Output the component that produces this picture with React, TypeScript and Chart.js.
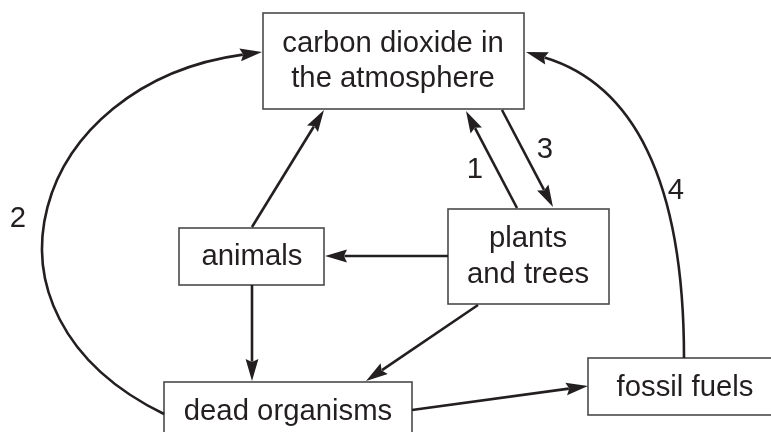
import React, { useEffect, useRef } from "react";
import { Chart, registerables } from "chart.js";
Chart.register(...registerables);

const W = 771;
const H = 432;

// Boxes (diagram units = pixels of the reference)
const nodeLabels: string[][] = [
  ["carbon dioxide in", "the atmosphere"],
  ["plants", "and trees"],
  ["animals"],
  ["dead organisms"],
  ["fossil fuels"],
];
const nodeLeft = [263, 448, 179, 164, 588];
const nodeTop = [13, 209, 228, 382, 358];
const nodeRight = [524, 609, 324, 412, 800];
const nodeBottom = [109, 304, 285, 450, 415];
const textX = [393, 528, 252, 288, 685];
const textBaselines: number[][] = [[52, 87], [247, 283], [265], [420], [396]];

// Straight arrows: from -> tip
const arrowFromX = [517, 502, 252, 448, 252, 478, 412];
const arrowFromY = [208, 110, 227, 256, 285, 305, 410];
const arrowToX = [466, 553, 324, 325, 252, 366, 588];
const arrowToY = [111, 207, 110, 256, 381, 381, 386];

// Curved arrows (cubic Bezier: start, control 1, control 2, tip)
const curveX: number[][] = [
  [164, -43, 34, 262],
  [684, 684, 632, 526],
];
const curveY: number[][] = [
  [414, 313, 83, 52],
  [358, 178, 84, 52],
];

// Step numbers
const stepLabels = ["1", "2", "3", "4"];
const stepX = [475, 18, 545, 676];
const stepY = [178, 227, 158, 199];

const INK = "#231f20";
const BOX = "#4a4a4a";
const FONT = "29.3px 'Liberation Sans', Arial, sans-serif";

const diagramPlugin = {
  id: "diagram",
  afterDraw(chart: any) {
    const ctx: CanvasRenderingContext2D = chart.ctx;
    const xs = chart.scales.x;
    const ys = chart.scales.y;
    const px = (v: number) => xs.getPixelForValue(v);
    const py = (v: number) => ys.getPixelForValue(v);

    ctx.save();
    ctx.fillStyle = "#ffffff";
    ctx.fillRect(0, 0, chart.width, chart.height);

    const head = (tx: number, ty: number, dx: number, dy: number) => {
      const len = Math.hypot(dx, dy) || 1;
      const ux = dx / len;
      const uy = dy / len;
      const L = 22;
      const hw = 6.4;
      const bx = tx - ux * L;
      const by = ty - uy * L;
      const nx = -uy;
      const ny = ux;
      ctx.beginPath();
      ctx.moveTo(tx, ty);
      ctx.lineTo(bx + nx * hw, by + ny * hw);
      ctx.lineTo(tx - ux * L * 0.86, ty - uy * L * 0.86);
      ctx.lineTo(bx - nx * hw, by - ny * hw);
      ctx.closePath();
      ctx.fillStyle = INK;
      ctx.fill();
      return [tx - ux * L * 0.88, ty - uy * L * 0.88];
    };

    // boxes
    ctx.lineWidth = 1.6;
    ctx.strokeStyle = BOX;
    for (let i = 0; i < nodeLabels.length; i++) {
      const x0 = px(nodeLeft[i]);
      const y0 = py(nodeTop[i]);
      const x1 = px(nodeRight[i]);
      const y1 = py(nodeBottom[i]);
      ctx.fillStyle = "#ffffff";
      ctx.fillRect(x0, y0, x1 - x0, y1 - y0);
      ctx.strokeRect(x0, y0, x1 - x0, y1 - y0);
    }

    // straight arrows
    ctx.strokeStyle = INK;
    ctx.lineWidth = 2.6;
    ctx.lineCap = "butt";
    for (let i = 0; i < arrowFromX.length; i++) {
      const sx = px(arrowFromX[i]);
      const sy = py(arrowFromY[i]);
      const tx = px(arrowToX[i]);
      const ty = py(arrowToY[i]);
      const [ex, ey] = head(tx, ty, tx - sx, ty - sy);
      ctx.beginPath();
      ctx.moveTo(sx, sy);
      ctx.lineTo(ex, ey);
      ctx.strokeStyle = INK;
      ctx.lineWidth = 2.6;
      ctx.stroke();
    }

    // curved arrows
    for (let i = 0; i < curveX.length; i++) {
      const p = curveX[i].map((v, k) => [px(v), py(curveY[i][k])]);
      const [ex, ey] = head(p[3][0], p[3][1], p[3][0] - p[2][0], p[3][1] - p[2][1]);
      ctx.beginPath();
      ctx.moveTo(p[0][0], p[0][1]);
      ctx.bezierCurveTo(p[1][0], p[1][1], p[2][0], p[2][1], ex, ey);
      ctx.strokeStyle = INK;
      ctx.lineWidth = 2.6;
      ctx.stroke();
    }

    // text
    ctx.font = FONT;
    ctx.fillStyle = INK;
    ctx.textAlign = "center";
    ctx.textBaseline = "alphabetic";
    for (let i = 0; i < nodeLabels.length; i++) {
      nodeLabels[i].forEach((line, k) => {
        ctx.fillText(line, px(textX[i]), py(textBaselines[i][k]));
      });
    }
    for (let i = 0; i < stepLabels.length; i++) {
      ctx.fillText(stepLabels[i], px(stepX[i]), py(stepY[i]));
    }
    ctx.restore();
  },
};

export default function App() {
  const ref = useRef<HTMLCanvasElement | null>(null);
  useEffect(() => {
    document.body.style.margin = "0";
    const canvas = ref.current;
    if (!canvas) return;
    const chart = new Chart(canvas, {
      type: "scatter",
      data: { datasets: [{ data: [], pointRadius: 0 }] },
      options: {
        animation: false,
        responsive: false,
        maintainAspectRatio: false,
        devicePixelRatio: 1,
        layout: { padding: 0 },
        plugins: { legend: { display: false }, tooltip: { enabled: false } },
        events: [],
        scales: {
          x: { type: "linear", min: 0, max: W, display: false },
          y: { type: "linear", min: 0, max: H, reverse: true, display: false },
        },
      },
      plugins: [diagramPlugin],
    });
    return () => chart.destroy();
  }, []);
  return (
    <div style={{ width: W, height: H, background: "#fff" }}>
      <canvas ref={ref} width={W} height={H} style={{ display: "block" }} />
    </div>
  );
}
